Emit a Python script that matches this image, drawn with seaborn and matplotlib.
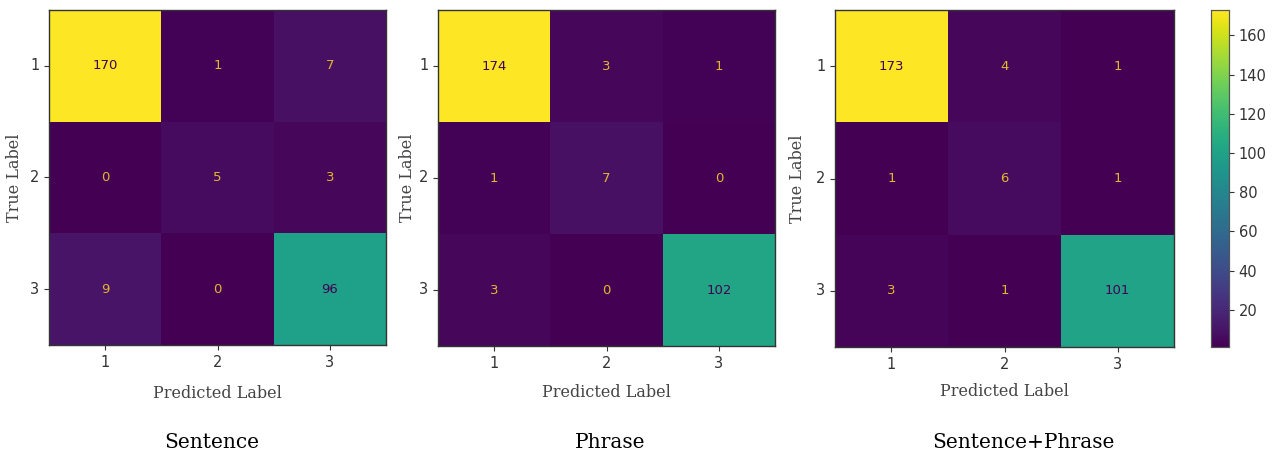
import numpy as np
import matplotlib
matplotlib.use("Agg")
import matplotlib.pyplot as plt
import seaborn as sns

labels = ["1", "2", "3"]
titles = ["Sentence", "Phrase", "Sentence+Phrase"]
cm_sentence = [[170, 1, 7], [0, 5, 3], [9, 0, 96]]
cm_phrase = [[174, 3, 1], [1, 7, 0], [3, 0, 102]]
cm_both = [[173, 4, 1], [1, 6, 1], [3, 1, 101]]
matrices = [cm_sentence, cm_phrase, cm_both]
cbar_ticks = [20, 40, 60, 80, 100, 120, 140, 160]

W, H = 1277, 462
fig = plt.figure(figsize=(W / 100, H / 100), dpi=100)

# axes boxes in pixels: left, top, right, bottom
boxes = [(49, 10, 386, 345), (438, 10, 775, 346), (835, 10, 1174, 347)]
ylab_x = [23, 416, 806]
xlab_top = [385, 384, 383]
title_x = [212, 610, 1023]
cax_box = (1211, 10, 1229, 347)

def fig_rect(b):
    l, t, r, btm = b
    return [l / W, 1 - btm / H, (r - l) / W, (btm - t) / H]

cax = fig.add_axes(fig_rect(cax_box))
serif = "DejaVu Serif"
tick_col = "#333333"

for i, (mat, box) in enumerate(zip(matrices, boxes)):
    ax = fig.add_axes(fig_rect(box))
    arr = np.array(mat)
    last = i == 2
    sns.heatmap(arr, ax=ax, cmap="viridis", annot=True, fmt="d",
                annot_kws={"fontsize": 9.5, "family": "DejaVu Sans"},
                cbar=last, cbar_ax=cax if last else None,
                xticklabels=labels, yticklabels=labels)
    thresh = (arr.max() + arr.min()) / 2.0
    for t in ax.texts:
        v = int(t.get_text())
        t.set_color("#440154" if v >= thresh else "#e3b72c")
    for sp in ax.spines.values():
        sp.set_visible(True)
        sp.set_color("#333333")
        sp.set_linewidth(1.0)
    ax.tick_params(axis="both", length=3.5, width=0.8, colors=tick_col,
                   labelsize=10.5, labelcolor=tick_col)
    ax.set_yticklabels(labels, rotation=0)
    ax.set_xticklabels(labels, rotation=0)
    l, t, r, btm = box
    ax.set_ylabel("True Label", family=serif, fontsize=11.5, color="#444444")
    ax.yaxis.set_label_coords((ylab_x[i] - l) / (r - l), 0.5)
    ax.set_xlabel("Predicted Label", family=serif, fontsize=11.5, color="#444444")
    ax.xaxis.set_label_coords(0.5, (btm - xlab_top[i]) / (btm - t))
    fig.text(title_x[i] / W, 1 - 442 / H, titles[i], family=serif,
             fontsize=14.5, color="black", ha="center", va="center")

cax.set_yticks(cbar_ticks)
cax.tick_params(length=3.5, width=0.8, colors=tick_col, labelsize=10.5,
                labelcolor=tick_col)
for sp in cax.spines.values():
    sp.set_visible(True)
    sp.set_color("#555555")
    sp.set_linewidth(0.8)

fig.savefig("out.png", dpi=100)
